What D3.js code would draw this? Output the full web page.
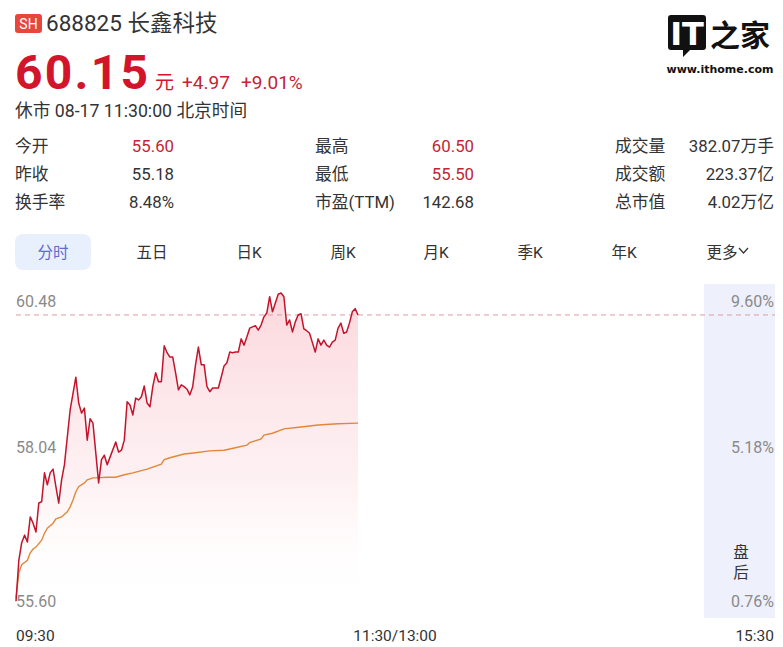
<!DOCTYPE html>
<html><head><meta charset="utf-8">
<script src="https://cdn.jsdelivr.net/npm/d3@7/dist/d3.min.js"></script>
<style>
html,body{margin:0;padding:0;background:#fff;}
svg{display:block;font-family:Roboto,"Noto Sans CJK SC",sans-serif;}
</style></head>
<body>
<svg id="c" width="783" height="647"></svg>
<script>
// ---- data ----
const stockCode = "688825";
const stockName = "长鑫科技";
const lastPrice = 60.15;
const prevClose = 55.18;
const changeAbs = "+4.97";
const changePct = "+9.01%";
const statusText = "休市 08-17 11:30:00 北京时间";

const statLabels = [["今开","昨收","换手率"],["最高","最低","市盈(TTM)"],["成交量","成交额","总市值"]];
const statValues = [["55.60","55.18","8.48%"],["60.50","55.50","142.68"],["382.07万手","223.37亿","4.02万亿"]];
const statRed = [[true,false,false],[true,true,false],[false,false,false]];

const tabs = ["分时","五日","日K","周K","月K","季K","年K","更多"];

// minutes since 09:30 (trading minutes; 120 = 11:30/13:00, 240 = 15:00)
const priceMinutes = [0,1,2,3,4,5,6,7,8,9,10,11,12,13,14,15,16,17,18,19,21,22,23,24,25,26,27,29,30,31,32,33,35,36,37,38,39,40,41,42,43,44,45,46,47,48,49,50,51,52,53,54,55,56,57,58,59,60,61,62,63,64,65,66,67,68,69,71,72,73,74,75,76,77,78,79,80,81,82,83,84,85,86,87,88,89,90,91,92,93,94,95,96,97,98,99,100,101,102,103,104,105,106,107,108,109,110,111,112,113,114,115,116,117,118,119,120];
const prices = [55.60,56.25,56.53,56.65,56.54,56.94,56.84,56.70,57.16,57.18,57.64,57.45,57.64,57.70,57.42,57.16,57.53,57.77,58.21,58.64,59.16,58.75,58.59,58.67,58.16,58.50,58.43,57.48,57.85,57.92,57.77,57.89,58.13,57.97,58.00,58.16,58.77,58.72,58.56,58.83,58.80,58.85,59.02,58.75,58.69,59.01,59.23,59.09,59.09,59.66,59.55,59.48,59.48,59.23,58.96,59.04,59.01,58.97,58.88,59.01,59.36,59.64,59.36,59.36,59.01,58.93,58.99,58.99,59.16,59.34,59.39,59.56,59.55,59.56,59.56,59.77,59.67,59.80,59.94,59.96,59.98,59.91,59.99,60.12,60.18,60.44,60.20,60.34,60.48,60.50,60.44,59.99,60.07,59.88,60.04,60.15,60.17,59.93,59.90,59.86,59.71,59.56,59.77,59.67,59.75,59.67,59.64,59.72,59.75,59.94,60.02,59.86,59.88,60.02,60.20,60.25,60.15];

const avgMinutes = [0,1,2,4,5,6,7,9,10,11,13,14,16,18,19,20,21,22,24,25,27,28,32,35,38,41,46,51,52,54,59,63,68,73,77,81,82,86,87,90,94,100,106,113,120];
const avgPrices = [55.65,56.05,56.18,56.25,56.37,56.43,56.46,56.57,56.68,56.76,56.84,56.91,56.94,57.02,57.10,57.21,57.34,57.42,57.48,57.53,57.56,57.56,57.57,57.57,57.61,57.64,57.70,57.78,57.85,57.88,57.94,57.96,57.99,58.00,58.04,58.08,58.12,58.18,58.24,58.27,58.34,58.37,58.40,58.42,58.43];

const yTickValues = [60.48, 58.04, 55.60];
const yTickLabels = ["60.48","58.04","55.60"];
const pctTickLabels = ["9.60%","5.18%","0.76%"];
const xTickMinutes = [0, 120, 270];
const xTickLabels = ["09:30","11:30/13:00","15:30"];

// ---- drawing ----
const svg = d3.select("#c");
const RED = "#d3152c", RED2 = "#c22535", TXT = "#333", GREY = "#8a8a8a";

// header
svg.append("rect").attr("x",15).attr("y",14).attr("width",27).attr("height",19).attr("rx",3).attr("fill","#e8463d");
svg.append("text").attr("x",28.5).attr("y",29).attr("text-anchor","middle").attr("font-size",14).attr("fill","#fff").text("SH");
svg.append("text").attr("x",46).attr("y",31).attr("font-size",22.5).attr("fill",TXT).text(stockCode + " " + stockName);
svg.append("text").attr("x",15).attr("y",89).attr("font-size",48).attr("font-weight","bold").attr("fill",RED)
  .attr("textLength",133).attr("lengthAdjust","spacing").text(lastPrice.toFixed(2));
svg.append("text").attr("x",155).attr("y",89).attr("font-size",19).attr("fill",RED).text("元");
svg.append("text").attr("x",182).attr("y",89).attr("font-size",19).attr("fill",RED2).text(changeAbs);
svg.append("text").attr("x",241).attr("y",89).attr("font-size",19).attr("fill",RED2).text(changePct);
svg.append("text").attr("x",15).attr("y",117).attr("font-size",17.7).attr("fill",TXT).text(statusText);

// logo
const logo = svg.append("g");
logo.append("path").attr("d","M671,15 H703 Q706,15 706,18 V47 Q706,50 703,50 H690 L683,57 L683,50 H671 Q668,50 668,47 V18 Q668,15 671,15 Z").attr("fill","#111");
logo.append("text").attr("x",687).attr("y",45).attr("text-anchor","middle").attr("font-size",32).attr("font-weight","bold")
  .attr("font-family","'DejaVu Sans',sans-serif").attr("fill","#fff").text("IT");
logo.append("text").attr("x",740).attr("y",46).attr("text-anchor","middle").attr("font-size",30).attr("font-weight","bold")
  .attr("font-family","'Noto Sans CJK SC'").attr("fill","#111").text("之家");
logo.append("text").attr("x",720).attr("y",73).attr("text-anchor","middle").attr("font-size",11).attr("font-weight","bold")
  .attr("font-family","'DejaVu Sans',sans-serif").attr("fill","#111").text("www.ithome.com");

// stats
const colLabelX = [15,315,615], colValueX = [174,474,774], rowY = [152,180,208];
statLabels.forEach((col,ci)=>col.forEach((lab,ri)=>{
  svg.append("text").attr("x",colLabelX[ci]).attr("y",rowY[ri]).attr("font-size",16.8).attr("fill",TXT).text(lab);
  svg.append("text").attr("x",colValueX[ci]).attr("y",rowY[ri]).attr("text-anchor","end").attr("font-size",16.8)
    .attr("fill",statRed[ci][ri]?RED2:TXT).text(statValues[ci][ri]);
}));

// tabs
const tabX = [53,152,249,343,436,530,624,722];
svg.append("rect").attr("x",15).attr("y",234).attr("width",76).attr("height",36).attr("rx",8).attr("fill","#e8f0fd");
tabs.forEach((t,i)=>{
  svg.append("text").attr("x",tabX[i]).attr("y",258).attr("text-anchor","middle").attr("font-size",15.5)
    .attr("fill",i===0?"#5d6bd3":TXT).text(t);
});
svg.append("path").attr("d","M739,248 L743.5,253 L748,248").attr("fill","none").attr("stroke",TXT).attr("stroke-width",1.2);

// chart scales
const x = d3.scaleLinear().domain([0,240]).range([16,700]);
const xAfter = d3.scaleLinear().domain([240,270]).range([705,775]);
const xAll = m => m<=240 ? x(m) : xAfter(m);
const y = d3.scaleLinear().domain([55.60,60.48]).range([601.2,294.2]);

// after-hours band
svg.append("rect").attr("x",704).attr("y",284).attr("width",71).attr("height",334).attr("fill","#eef0fc");

// gradient area
const defs = svg.append("defs");
const grad = defs.append("linearGradient").attr("id","g").attr("x1",0).attr("y1",0).attr("x2",0).attr("y2",1);
grad.append("stop").attr("offset","0%").attr("stop-color","#f27a8c").attr("stop-opacity",0.30);
grad.append("stop").attr("offset","60%").attr("stop-color","#f7a8b4").attr("stop-opacity",0.16);
grad.append("stop").attr("offset","100%").attr("stop-color","#ffffff").attr("stop-opacity",0);

const pts = priceMinutes.map((m,i)=>[m,prices[i]]);
const area = d3.area().x(d=>x(d[0])).y0(608).y1(d=>y(d[1]));
svg.append("path").datum(pts).attr("d",area).attr("fill","url(#g)");

// current price dashed line
svg.append("line").attr("x1",16).attr("x2",775).attr("y1",y(lastPrice)).attr("y2",y(lastPrice))
  .attr("stroke","#e19aa3").attr("stroke-width",1).attr("stroke-dasharray","5,4");

// avg line
const line = d3.line().x(d=>x(d[0])).y(d=>y(d[1]));
svg.append("path").datum(avgMinutes.map((m,i)=>[m,avgPrices[i]])).attr("d",line)
  .attr("fill","none").attr("stroke","#e0883a").attr("stroke-width",1.4);
// price line
svg.append("path").datum(pts).attr("d",line).attr("fill","none").attr("stroke","#c3142b").attr("stroke-width",1.5).attr("stroke-linejoin","round");

// y labels
yTickValues.forEach((v,i)=>{
  const yy = Math.max(y(v), 301);
  svg.append("text").attr("x",16).attr("y",yy).attr("dy","0.36em").attr("font-size",16).attr("fill",GREY).text(yTickLabels[i]);
  svg.append("text").attr("x",774).attr("y",yy).attr("dy","0.36em").attr("text-anchor","end").attr("font-size",16).attr("fill",GREY).text(pctTickLabels[i]);
});
svg.append("text").attr("x",741).attr("y",558).attr("text-anchor","middle").attr("font-size",15.5).attr("fill",TXT).text("盘");
svg.append("text").attr("x",741).attr("y",578).attr("text-anchor","middle").attr("font-size",15.5).attr("fill",TXT).text("后");

// x labels
const xAnchors = ["start","middle","end"];
const xOffsets = [0,37,-1];
xTickMinutes.forEach((m,i)=>{
  svg.append("text").attr("x",xAll(m)+xOffsets[i]).attr("y",641).attr("text-anchor",xAnchors[i]).attr("font-size",15.5).attr("fill",TXT).text(xTickLabels[i]);
});
</script>
</body></html>
